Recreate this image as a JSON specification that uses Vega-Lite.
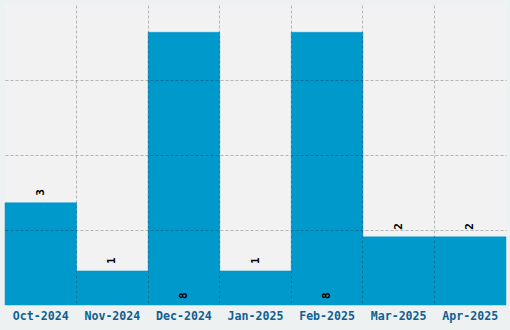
{
  "$schema": "https://vega.github.io/schema/vega-lite/v6.json",
  "width": 501,
  "height": 300,
  "padding": {"left": 5, "top": 5, "right": 4, "bottom": 25},
  "autosize": {"type": "none"},
  "background": "#eef1f1",
  "config": {
    "view": {"fill": "#f2f2f2", "stroke": null},
    "font": "DejaVu Sans Mono"
  },
  "data": {
    "values": [
      {"month": "Oct-2024", "count": 3},
      {"month": "Nov-2024", "count": 1},
      {"month": "Dec-2024", "count": 8},
      {"month": "Jan-2025", "count": 1},
      {"month": "Feb-2025", "count": 8},
      {"month": "Mar-2025", "count": 2},
      {"month": "Apr-2025", "count": 2}
    ]
  },
  "encoding": {
    "x": {
      "field": "month",
      "type": "nominal",
      "sort": null,
      "scale": {"paddingInner": 0, "paddingOuter": 0},
      "axis": {
        "title": null,
        "labelAngle": 0,
        "ticks": false,
        "domain": false,
        "bandPosition": 0,
        "labelAlign": "center",
        "labelDx": 31.5,
        "labelPadding": 5,
        "labelFont": "DejaVu Sans Mono",
        "labelFontWeight": "bold",
        "labelFontSize": 11.6,
        "labelColor": "#0f5f92",
        "grid": true,
        "gridColor": "#000",
        "gridOpacity": {"condition": {"test": "datum.value === 'Oct-2024'", "value": 0}, "value": 0.25},
        "gridDash": [3, 2],
        "zindex": 1
      }
    }
  },
  "layer": [
    {
      "mark": {"type": "bar", "color": "#0099cc", "stroke": "#0099cc", "strokeWidth": 0.5},
      "encoding": {
        "y": {
          "field": "count",
          "type": "quantitative",
          "scale": {"domain": [0, 8.8], "nice": false},
          "axis": {
            "title": null,
            "labels": false,
            "ticks": false,
            "domain": false,
            "values": [2.2, 4.4, 6.6],
            "grid": true,
            "gridColor": "#000",
            "gridOpacity": 0.25,
            "gridDash": [3, 2],
            "zindex": 1
          }
        }
      }
    },
    {
      "transform": [{"filter": "datum.count < 8"}],
      "mark": {
        "type": "text",
        "angle": 270,
        "align": "left",
        "baseline": "middle",
        "dx": 7,
        "font": "DejaVu Sans Mono",
        "fontWeight": "bold",
        "fontSize": 11,
        "color": "#000"
      },
      "encoding": {
        "y": {"field": "count", "type": "quantitative"},
        "text": {"field": "count", "type": "quantitative"}
      }
    },
    {
      "transform": [{"filter": "datum.count >= 8"}],
      "mark": {
        "type": "text",
        "angle": 270,
        "align": "left",
        "baseline": "middle",
        "dx": 6,
        "font": "DejaVu Sans Mono",
        "fontWeight": "bold",
        "fontSize": 11,
        "color": "#000"
      },
      "encoding": {
        "y": {"datum": 0, "type": "quantitative"},
        "text": {"field": "count", "type": "quantitative"}
      }
    }
  ]
}
